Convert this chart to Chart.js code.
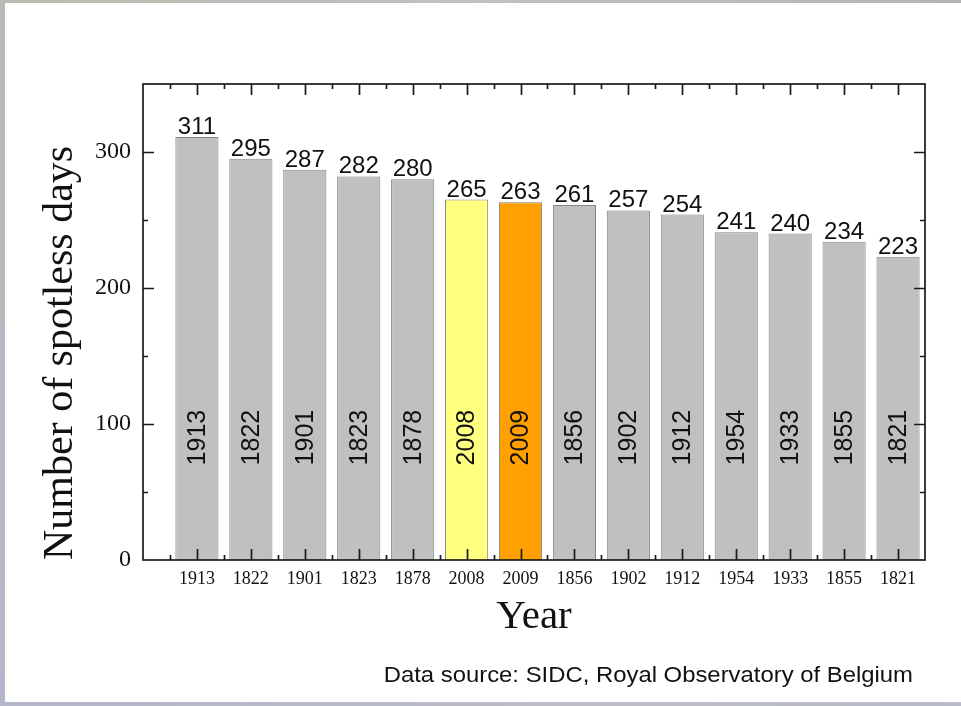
<!DOCTYPE html>
<html>
<head>
<meta charset="utf-8">
<title>Number of spotless days</title>
<script src="https://cdn.jsdelivr.net/npm/chart.js@4.4.1/dist/chart.umd.min.js"></script>
<style>
  html, body { margin: 0; padding: 0; background: #ffffff; }
  #wrap { width: 961px; height: 706px; position: relative; }
  canvas { display: block; }
</style>
</head>
<body>
<div id="wrap"><canvas id="chart" width="961" height="706"></canvas></div>
<script>
// Years ranked by number of spotless days
const years = ['1913', '1822', '1901', '1823', '1878', '2008', '2009', '1856', '1902', '1912', '1954', '1933', '1855', '1821'];
const spotlessDays = [311, 295, 287, 282, 280, 265, 263, 261, 257, 254, 241, 240, 234, 223];
const yTickValues = [0, 100, 200, 300];
const highlightColors = { '2008': '#ffff80', '2009': '#ffa000' };
const footerText = 'Data source: SIDC, Royal Observatory of Belgium';

const SERIF = '"Liberation Serif", "Times New Roman", serif';
const SANS = '"Liberation Sans", Arial, sans-serif';
const BAR_GREY = '#c0c0c0';
const YEAR_LABEL_VALUE = 90; // height (in days) where the year is written inside each bar

const points = years.map((y, i) => ({ x: i + 1, y: spotlessDays[i] }));
const fillColors = years.map(y => highlightColors[y] || BAR_GREY);

// Slide-style border strips around the page
const pageFrame = {
  id: 'pageFrame',
  beforeDraw(chart) {
    const { ctx, width, height } = chart;
    ctx.save();
    ctx.fillStyle = '#ffffff';
    ctx.fillRect(0, 0, width, height);
    let g = ctx.createLinearGradient(0, 0, width, 0);
    g.addColorStop(0, '#b9bbb3');
    g.addColorStop(0.5, '#bfc1bb');
    g.addColorStop(1, '#b4b6b6');
    ctx.fillStyle = g;
    ctx.fillRect(0, 0, width, 3);
    g = ctx.createLinearGradient(0, 0, 0, height);
    g.addColorStop(0, '#b8bab4');
    g.addColorStop(1, '#b3b6cb');
    ctx.fillStyle = g;
    ctx.fillRect(0, 0, 5, height);
    g = ctx.createLinearGradient(0, 0, width, 0);
    g.addColorStop(0, '#b5b8cb');
    g.addColorStop(0.6, '#bcbcc6');
    g.addColorStop(1, '#b8bbc8');
    ctx.fillStyle = g;
    ctx.fillRect(0, height - 4, width, 4);
    ctx.restore();
  }
};

// Closed plot frame with inward major/minor ticks on all four sides
const boxTicks = {
  id: 'boxTicks',
  afterDatasetsDraw(chart) {
    const { ctx, chartArea: a, scales: { x, y } } = chart;
    ctx.save();
    ctx.strokeStyle = '#1a1a1a';
    ctx.lineWidth = 1.7;
    ctx.strokeRect(a.left, a.top, a.right - a.left, a.bottom - a.top);
    ctx.beginPath();
    for (let v = 0.5; v < x.max; v += 0.5) {
      const px = Math.round(x.getPixelForValue(v)) + 0.5;
      const len = Number.isInteger(v) ? 11 : 5;
      ctx.moveTo(px, a.bottom); ctx.lineTo(px, a.bottom - len);
      ctx.moveTo(px, a.top); ctx.lineTo(px, a.top + len);
    }
    for (let v = 50; v < y.max; v += 50) {
      const py = Math.round(y.getPixelForValue(v)) + 0.5;
      const len = v % 100 === 0 ? 11 : 5;
      ctx.moveTo(a.left, py); ctx.lineTo(a.left + len, py);
      ctx.moveTo(a.right, py); ctx.lineTo(a.right - len, py);
    }
    ctx.stroke();
    ctx.restore();
  }
};

// Value above each bar and the year written vertically inside it
const barLabels = {
  id: 'barLabels',
  afterDatasetsDraw(chart) {
    const { ctx, scales: { y } } = chart;
    const meta = chart.getDatasetMeta(0);
    ctx.save();
    ctx.fillStyle = '#111111';
    meta.data.forEach((bar, i) => {
      ctx.font = '24px ' + SANS;
      ctx.textAlign = 'center';
      ctx.textBaseline = 'alphabetic';
      ctx.fillText(String(spotlessDays[i]), bar.x, bar.y - 3);

      ctx.save();
      ctx.translate(bar.x, y.getPixelForValue(YEAR_LABEL_VALUE));
      ctx.rotate(-Math.PI / 2);
      ctx.font = '25px ' + SANS;
      ctx.textAlign = 'center';
      ctx.textBaseline = 'middle';
      ctx.fillText(years[i], 0, 1);
      ctx.restore();
    });
    ctx.restore();
  }
};

// Source note in the lower right corner
const footer = {
  id: 'footer',
  afterDraw(chart) {
    const { ctx } = chart;
    ctx.save();
    ctx.fillStyle = '#111111';
    ctx.font = '22px ' + SANS;
    ctx.textAlign = 'right';
    ctx.textBaseline = 'middle';
    ctx.translate(913, 676);
    ctx.scale(1.085, 1);
    ctx.fillText(footerText, 0, 0);
    ctx.restore();
  }
};

new Chart(document.getElementById('chart'), {
  type: 'bar',
  data: {
    datasets: [{
      data: points,
      backgroundColor: fillColors,
      borderColor: '#858585',
      borderWidth: 1,
      borderSkipped: 'bottom',
      barPercentage: 0.8,
      categoryPercentage: 1.0
    }]
  },
  options: {
    responsive: false,
    animation: false,
    events: [],
    layout: { padding: { left: 0, top: 84, right: 36, bottom: 0 } },
    plugins: {
      legend: { display: false },
      tooltip: { enabled: false }
    },
    scales: {
      x: {
        type: 'linear',
        min: 0,
        max: 14.5,
        offset: false,
        grid: { display: false, drawTicks: false, offset: false },
        border: { display: false },
        afterBuildTicks(scale) {
          scale.ticks = years.map((_, i) => ({ value: i + 1 }));
        },
        afterFit(scale) { scale.height = 146; },
        ticks: {
          autoSkip: false,
          maxRotation: 0,
          padding: 8,
          color: '#111111',
          font: { family: SERIF, size: 18 },
          callback: (v) => years[v - 1] || ''
        },
        title: {
          display: true,
          text: 'Year',
          color: '#111111',
          font: { family: SERIF, size: 41 },
          padding: { top: 0, bottom: 64 }
        }
      },
      y: {
        min: 0,
        max: 350,
        grid: { display: false, drawTicks: false },
        border: { display: false },
        afterBuildTicks(scale) {
          scale.ticks = yTickValues.map(v => ({ value: v }));
        },
        afterFit(scale) { scale.width = 143; },
        ticks: {
          padding: 12,
          color: '#111111',
          font: { family: SERIF, size: 24 }
        },
        title: {
          display: true,
          text: 'Number of spotless days',
          align: 'start',
          color: '#111111',
          font: { family: SERIF, size: 42 },
          padding: { top: 36, bottom: 0 }
        }
      }
    }
  },
  plugins: [pageFrame, boxTicks, barLabels, footer]
});
</script>
</body>
</html>
